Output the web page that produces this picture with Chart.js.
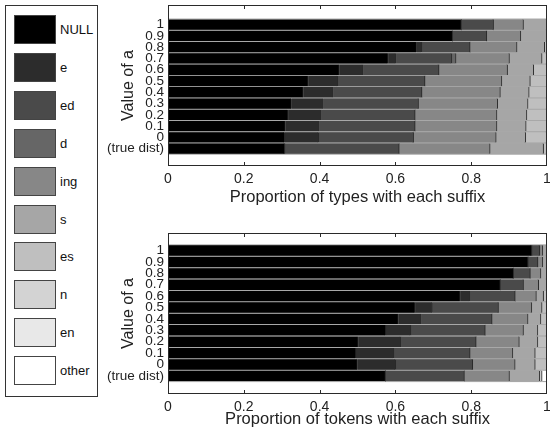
<!DOCTYPE html>
<html>
<head>
<meta charset="utf-8">
<script src="https://cdn.jsdelivr.net/npm/chart.js@4.4.1/dist/chart.umd.min.js"></script>
<style>
  body { margin: 0; background: #fff; width: 550px; height: 433px; overflow: hidden; position: relative;
         font-family: "Liberation Sans", Arial, sans-serif; }
  #legend { position: absolute; left: 5px; top: 5px; width: 93px; height: 392px; border: 1px solid #333; box-sizing: border-box; }
  .item { position: absolute; left: 8px; height: 29px; display: flex; align-items: center; }
  .sw { width: 42px; height: 29px; border: 1px solid #444; box-sizing: border-box; margin-right: 4px; }
  .item span { font-size: 13px; color: #111; }
  .wrap { position: absolute; left: 100px; width: 450px; }
</style>
</head>
<body>
<div id="legend"></div>
<div class="wrap" style="top:0;height:210px"><canvas id="types"></canvas></div>
<div class="wrap" style="top:210px;height:223px"><canvas id="tokens"></canvas></div>
<script>
// rows, top to bottom
const rowLabels = ["1", "0.9", "0.8", "0.7", "0.6", "0.5", "0.4", "0.3", "0.2", "0.1", "0", "(true dist)"];
const suffixes = ["NULL", "e", "ed", "d", "ing", "s", "es", "n", "en", "other"];
const shades = ["#000000", "#2c2c2c", "#4a4a4a", "#666666", "#878787", "#a6a6a6", "#bfbfbf", "#d3d3d3", "#e8e8e8", "#ffffff"];

// proportion of types
const typesNull  = [0.774, 0.751, 0.656, 0.581, 0.452, 0.370, 0.357, 0.326, 0.317, 0.310, 0.308, 0.308];
const typesE     = [0, 0, 0.014, 0.021, 0.063, 0.078, 0.079, 0.084, 0.087, 0.089, 0.090, 0];
const typesEd    = [0.085, 0.090, 0.127, 0.147, 0.200, 0.230, 0.234, 0.251, 0.248, 0.253, 0.250, 0.302];
const typesD     = [0, 0, 0, 0.011, 0, 0, 0, 0, 0, 0, 0, 0];
const typesIng   = [0.079, 0.090, 0.124, 0.141, 0.181, 0.203, 0.207, 0.209, 0.216, 0.216, 0.218, 0.240];
const typesS     = [0.062, 0.069, 0.073, 0.086, 0.069, 0.075, 0.076, 0.080, 0.079, 0.077, 0.078, 0.141];
const typesEs    = [0, 0, 0.006, 0.013, 0.035, 0.044, 0.047, 0.050, 0.053, 0.055, 0.056, 0.009];
const typesN     = [0, 0, 0, 0, 0, 0, 0, 0, 0, 0, 0, 0];
const typesEn    = [0, 0, 0, 0, 0, 0, 0, 0, 0, 0, 0, 0];
const typesOther = [0, 0, 0, 0, 0, 0, 0, 0, 0, 0, 0, 0];

// proportion of tokens
const tokensNull  = [0.960, 0.950, 0.912, 0.877, 0.771, 0.652, 0.608, 0.575, 0.502, 0.496, 0.500, 0.574];
const tokensE     = [0, 0, 0, 0, 0.026, 0.046, 0.060, 0.066, 0.113, 0.100, 0.101, 0];
const tokensEd    = [0.021, 0.026, 0.044, 0.061, 0.119, 0.174, 0.187, 0.196, 0.198, 0.201, 0.203, 0.208];
const tokensD     = [0, 0, 0, 0, 0, 0, 0, 0, 0, 0, 0, 0];
const tokensIng   = [0.008, 0.013, 0.028, 0.040, 0.056, 0.088, 0.095, 0.101, 0.114, 0.113, 0.112, 0.119];
const tokensS     = [0.011, 0.011, 0.016, 0.022, 0.019, 0.027, 0.034, 0.038, 0.049, 0.059, 0.053, 0.080];
const tokensEs    = [0, 0, 0, 0, 0.009, 0.013, 0.016, 0.024, 0.024, 0.031, 0.031, 0];
const tokensN     = [0, 0, 0, 0, 0, 0, 0, 0, 0, 0, 0, 0.006];
const tokensEn    = [0, 0, 0, 0, 0, 0, 0, 0, 0, 0, 0, 0];
const tokensOther = [0, 0, 0, 0, 0, 0, 0, 0, 0, 0, 0, 0.013];

const xTicks = [0.2, 0.4, 0.6, 0.8];

Chart.defaults.font.family = '"Liberation Sans", Arial, sans-serif';
Chart.defaults.color = "#222";

// legend panel
const legend = document.getElementById("legend");
suffixes.forEach((name, i) => {
  const item = document.createElement("div");
  item.className = "item";
  item.style.top = (9 + i * 37.9) + "px";
  item.innerHTML = '<div class="sw" style="background:' + shades[i] + '"></div><span>' + name + "</span>";
  legend.appendChild(item);
});

// drop the label overhang padding so the plot box sits where we put it
function noOverhang(s) {
  s.paddingLeft = 0; s.paddingRight = 0; s.paddingTop = 0; s.paddingBottom = 0;
}

// gray gaps between bars + boxed axes with inward ticks
const boxPlugin = {
  id: "box",
  beforeDatasetsDraw(chart) {
    const els = chart.getDatasetMeta(0).data;
    const a = chart.chartArea, ctx = chart.ctx;
    let top = Infinity, bottom = -Infinity;
    els.forEach(el => {
      top = Math.min(top, el.y - el.height / 2);
      bottom = Math.max(bottom, el.y + el.height / 2);
    });
    ctx.save();
    ctx.fillStyle = "#a8a8a8";
    ctx.fillRect(a.left, top - 1, a.right - a.left, bottom - top + 2);
    ctx.restore();
  },
  afterDraw(chart) {
    const a = chart.chartArea, ctx = chart.ctx, xs = chart.scales.x;
    ctx.save();
    ctx.strokeStyle = "#2a2a2a";
    ctx.lineWidth = 1;
    ctx.strokeRect(a.left + 0.5, a.top + 0.5, a.right - a.left - 1, a.bottom - a.top - 1);
    ctx.beginPath();
    xTicks.forEach(v => {
      const x = Math.round(xs.getPixelForValue(v)) + 0.5;
      ctx.moveTo(x, a.top); ctx.lineTo(x, a.top + 4);
      ctx.moveTo(x, a.bottom); ctx.lineTo(x, a.bottom - 4);
    });
    ctx.stroke();
    ctx.restore();
  }
};

function makeChart(id, series, title, yMin, yMax, padTop, xHeight, titlePad, thick) {
  return new Chart(document.getElementById(id), {
    type: "bar",
    data: {
      datasets: suffixes.map((name, i) => ({
        label: name,
        data: series[i].map((v, r) => ({ x: v, y: r + 1 })),
        backgroundColor: shades[i],
        borderColor: "#2a2a2a",
        borderWidth: { top: 0, bottom: 0, left: 0, right: 1 },
        borderSkipped: false,
        barThickness: thick,
      })),
    },
    options: {
      indexAxis: "y",
      animation: false,
      responsive: true,
      maintainAspectRatio: false,
      layout: { autoPadding: false, padding: { top: padTop, right: 3, left: 0, bottom: 0 } },
      plugins: { legend: { display: false }, tooltip: { enabled: false } },
      scales: {
        x: {
          type: "linear",
          stacked: true,
          min: 0,
          max: 1,
          grid: { display: false, drawTicks: false },
          border: { display: false },
          ticks: { stepSize: 0.2, padding: 5, font: { size: 14 }, callback: (v) => String(Math.round(v * 10) / 10) },
          title: { display: true, text: title, font: { size: 16.5 }, padding: { top: 0, bottom: titlePad } },
          afterFit(s) { s.height = xHeight; noOverhang(s); },
        },
        y: {
          type: "linear",
          stacked: true,
          reverse: true,
          min: yMin,
          max: yMax,
          grid: { display: false, drawTicks: false },
          border: { display: false },
          ticks: {
            stepSize: 1,
            autoSkip: false,
            includeBounds: false,
            padding: 4,
            font: { size: 13.5 },
            callback: (v) => {
              const k = Math.round(v);
              if (Math.abs(v - k) > 1e-6 || k < 1 || k > rowLabels.length) return null;
              return rowLabels[k - 1];
            },
          },
          title: { display: true, text: "Value of a", font: { size: 16 }, padding: { top: 19, bottom: 0 } },
          afterFit(s) { s.width = 68; noOverhang(s); },
        },
      },
    },
    plugins: [boxPlugin],
  });
}

makeChart("types",
  [typesNull, typesE, typesEd, typesD, typesIng, typesS, typesEs, typesN, typesEn, typesOther],
  "Proportion of types with each suffix", -0.15, 12.95, 5, 44, 3, 10.3);

makeChart("tokens",
  [tokensNull, tokensE, tokensEd, tokensD, tokensIng, tokensS, tokensEs, tokensN, tokensEn, tokensOther],
  "Proportion of tokens with each suffix", 0.05, 13.0, 23, 39, 4, 10.4);
</script>
</body>
</html>
